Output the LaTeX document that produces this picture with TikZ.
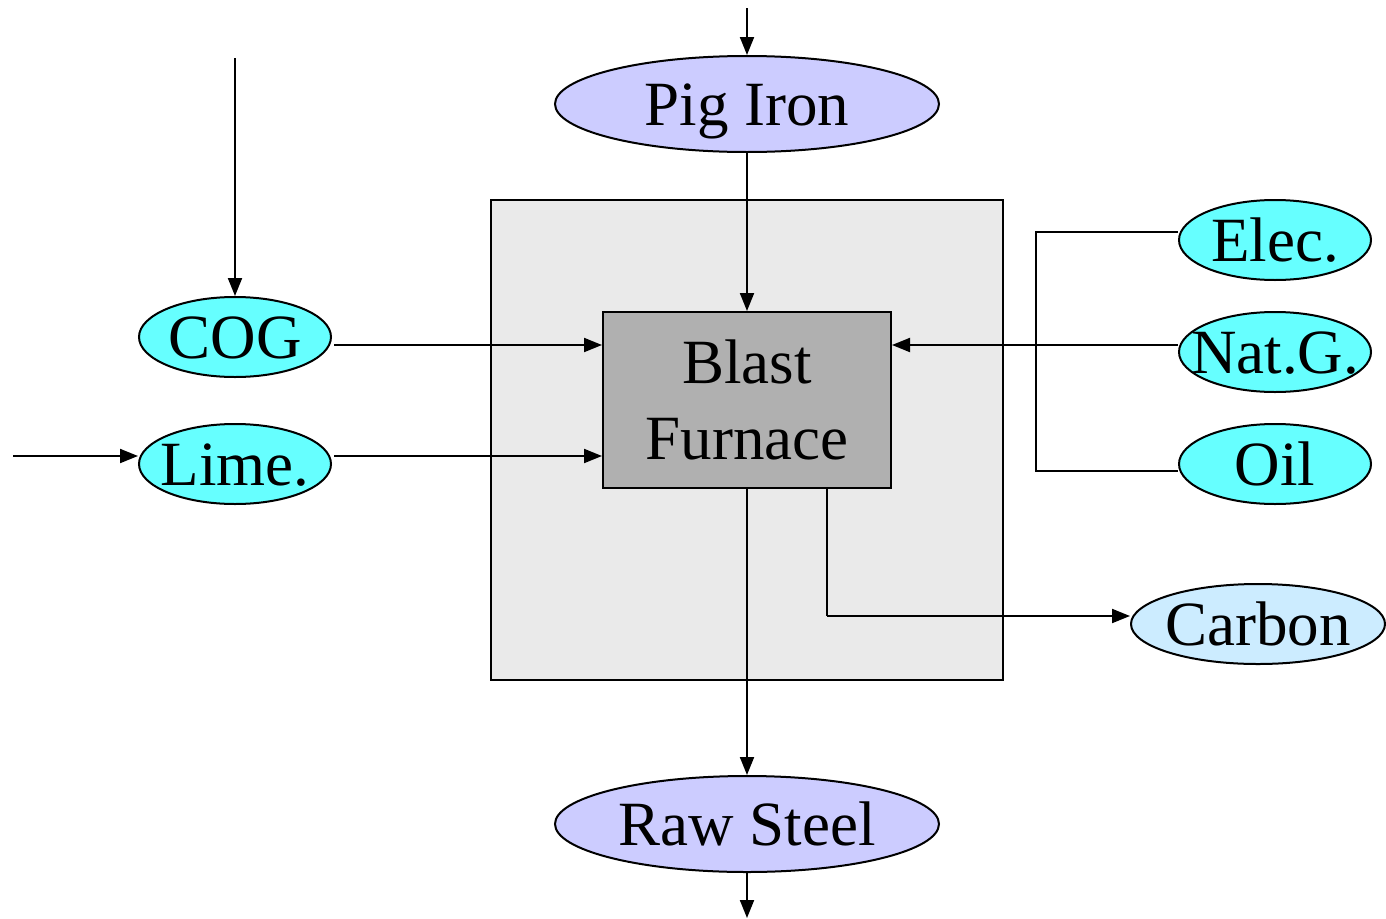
\documentclass[tikz,border=0pt]{standalone}
\usepackage{fontspec}
\setmainfont{Liberation Serif}
\usetikzlibrary{shapes.geometric,arrows.meta}
\definecolor{cyanfill}{HTML}{66FFFF}
\definecolor{lavfill}{HTML}{CCCCFF}
\definecolor{carbfill}{HTML}{CCECFF}
\definecolor{outerfill}{HTML}{EAEAEA}
\definecolor{bffill}{HTML}{B0B0B0}
\newcommand{\zw}[1]{\makebox[0pt][c]{#1}}
\tikzset{
  oval/.style={ellipse, draw, line width=2pt, inner sep=0pt, text height=42pt, text depth=0pt,
    font=\fontsize{63}{70}\selectfont},
  small/.style={oval, fill=cyanfill, minimum width=192pt, minimum height=80pt},
  big/.style={oval, fill=lavfill, minimum width=384pt, minimum height=96pt},
  arr/.style={line width=2pt, -{Triangle[length=18pt,width=14pt]}},
  ln/.style={line width=2pt},
}
\begin{document}
\begin{tikzpicture}[x=1pt,y=-1pt]
\useasboundingbox (0,0) rectangle (1386,918);
\node[draw, line width=2pt, fill=outerfill, minimum width=512pt, minimum height=480pt, inner sep=0pt] (outer) at (747,440) {};
\node[draw, line width=2pt, fill=bffill, minimum width=288pt, minimum height=176pt, inner sep=0pt, align=center,
  font=\fontsize{63}{76}\selectfont] (BF) at (747,400) {Blast\\Furnace};
\node[big] (PI) at (747,104) {\zw{Pig Iron}};
\node[big] (RS) at (747,824) {\zw{Raw Steel}};
\node[small] (COG) at (235,337) {\zw{COG}};
\node[small] (Lime) at (235,464) {\zw{Lime.}};
\node[small] (Elec) at (1275,240) {\zw{Elec.}};
\node[small] (NatG) at (1275,352) {\zw{Nat.G.}};
\node[small] (Oil) at (1275,464) {\zw{Oil}};
\node[oval, fill=carbfill, minimum width=254pt, minimum height=80pt] (Carbon) at (1258,624) {\zw{Carbon}};
\coordinate (topin) at (747,8);
\coordinate (botout) at (747,918);
\coordinate (cogin) at (235,58);
\coordinate (limein) at (13,456);
\coordinate (brx) at (1036,0);
\coordinate (cturn) at (827,616);
% connectors
\draw[arr] (topin) -- (PI.north);
\draw[arr] (PI.south) -- (BF.north);
\draw[arr] (cogin) -- (COG.north);
\draw[arr] ([xshift=2pt,yshift=-8pt]COG.east) -- ([yshift=-8pt]COG.east -| BF.west);
\draw[arr] (limein) -- (limein -| Lime.west);
\draw[arr] ([xshift=2pt,yshift=8pt]Lime.east) -- ([yshift=8pt]Lime.east -| BF.west);
\draw[arr] ([yshift=7pt]NatG.west) -- ([yshift=7pt]NatG.west -| BF.east);
\draw[ln] ([yshift=8pt]Elec.west) -- ([yshift=8pt]Elec.west -| brx) -- ([yshift=-7pt]Oil.west -| brx) -- ([yshift=-7pt]Oil.west);
\draw[arr] (BF.south) -- (RS.north);
\draw[arr] (RS.south) -- (botout);
\draw[ln] (BF.south -| cturn) -- (cturn);
\draw[arr] (cturn) -- (cturn -| Carbon.west);
\end{tikzpicture}
\end{document}
